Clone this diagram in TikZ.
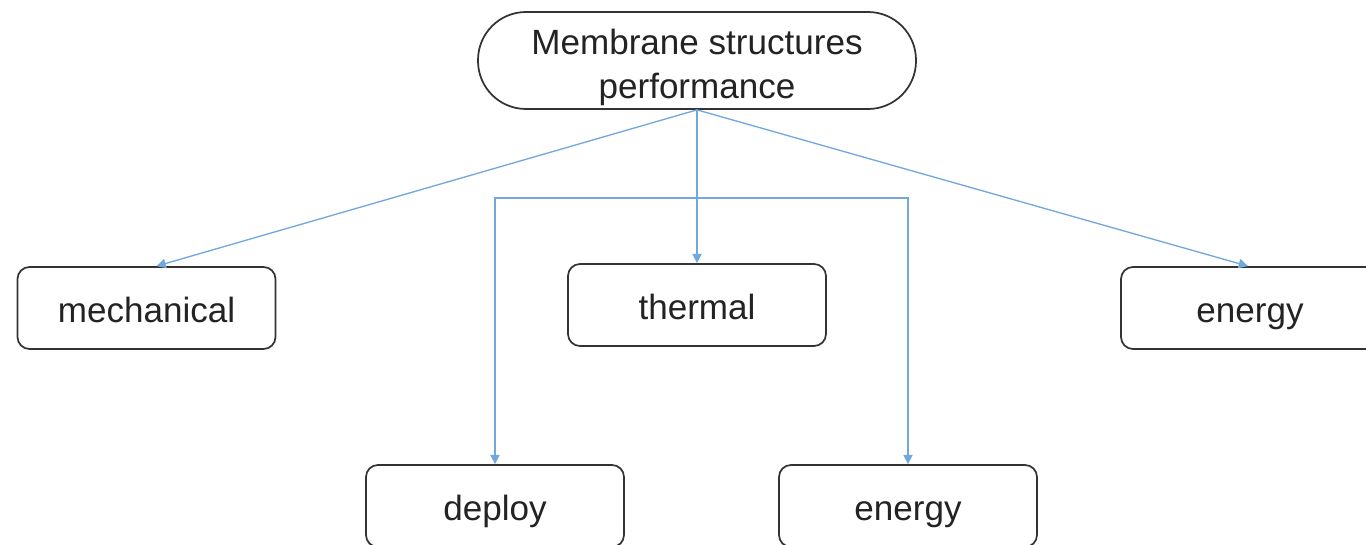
\documentclass[tikz,border=0pt]{standalone}
\usepackage{fontspec}
\setmainfont{Liberation Sans}
\usetikzlibrary{arrows.meta}
\definecolor{linkblue}{RGB}{115,168,222}
\definecolor{txt}{RGB}{35,35,35}
\begin{document}
\begin{tikzpicture}[x=0.75pt,y=-0.75pt,
  box/.style={draw=black!80,line width=1.3pt,rounded corners=9pt,minimum width=193.5pt,minimum height=61.5pt,inner sep=0pt,text=txt,text height=24pt,text depth=2pt,font=\fontsize{26.3}{30}\selectfont},
  topnode/.style={draw=black!80,line width=1.3pt,rounded corners=36pt,minimum width=328.5pt,minimum height=72.75pt,inner sep=0pt},
  toptext/.style={inner sep=0pt,align=center,text=txt,font=\fontsize{26.3}{32.5}\selectfont},
  link/.style={draw=linkblue,line width=1pt,-{Triangle[length=7pt,width=7pt]}}]
\useasboundingbox (0,0) rectangle (1366,545);
\clip (0,0) rectangle (1366,545);
\fill[white] (0,0) rectangle (1366,545);
\node[topnode] (top) at (697,60.5) {};
\node[toptext] (toplabel) at (697,67.5) {Membrane structures\\performance};
\node[box] (mech) at (146.5,308) {mechanical};
\node[box] (therm) at (697,305) {thermal};
\node[box] (en1) at (1250,308) {energy};
\node[box] (dep) at (495,506) {deploy};
\node[box] (en2) at (908,506) {energy};
\coordinate (j) at (697,198);
\draw[link] (top.south) -- ([xshift=7.5pt]mech.north);
\draw[link] (top.south) -- ([xshift=-1.5pt]en1.north);
\draw[link] (top.south) -- (therm.north);
\draw[link] (j) -| (dep.north);
\draw[link] (j) -| (en2.north);
\end{tikzpicture}
\end{document}
